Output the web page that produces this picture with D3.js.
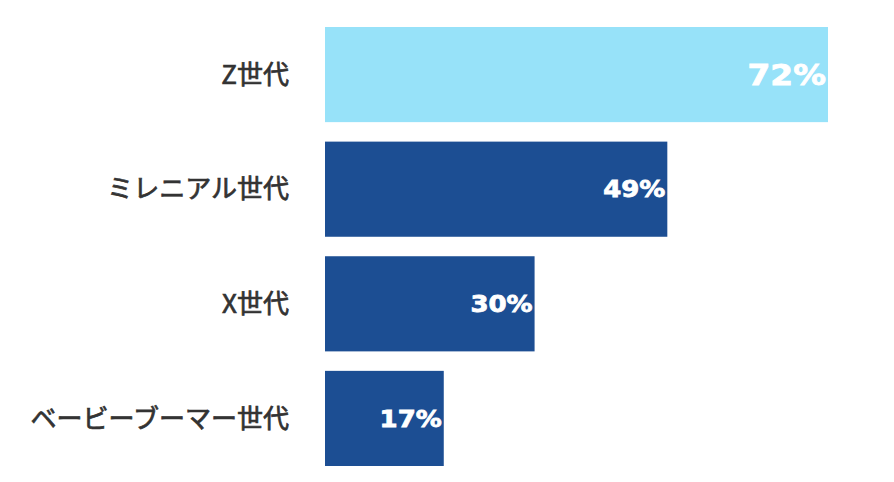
<!DOCTYPE html>
<html>
<head>
<meta charset="utf-8">
<script src="https://cdn.jsdelivr.net/npm/d3@7"></script>
<style>
  body { margin: 0; background: #fff; }
</style>
</head>
<body>
<div class="chart"></div>
<script>
const categories = ["Z世代", "ミレニアル世代", "X世代", "ベービーブーマー世代"];
const values = [72, 49, 30, 17];
const valueLabels = ["72%", "49%", "30%", "17%"];

const width = 894, height = 482;

const svg = d3.select(".chart").append("svg")
    .attr("width", width)
    .attr("height", height)

// bar start at 325, 72% ends at ~828
const xScale = d3.scaleLinear()
    .domain([0, 72])
    .range([325, 828])

const yScale = d3.scaleBand()
    .domain(categories)
    .range([27, 466])
    .paddingInner(0.17)

const data = categories.map((c, i) => ({cat: c, value: values[i], label: valueLabels[i], first: i === 0}))

svg.selectAll(".bar")
    .data(data)
    .join("rect")
    .attr("class", "bar")
    .attr("x", xScale(0))
    .attr("y", d => yScale(d.cat))
    .attr("width", d => xScale(d.value) - xScale(0))
    .attr("height", yScale.bandwidth())
    .attr("fill", d => d.first ? "#97e2f9" : "#1c4e93")

// category labels on the left (regular weight thickened with a thin stroke)
svg.selectAll(".cat-label")
    .data(data)
    .join("text")
    .attr("class", "cat-label")
    .attr("x", 289)
    .attr("y", d => yScale(d.cat) + yScale.bandwidth() / 2)
    .attr("dy", "0.35em")
    .attr("text-anchor", "end")
    .attr("font-family", "'Noto Sans CJK JP', 'Noto Sans', sans-serif")
    .attr("font-size", 26)
    .attr("font-weight", 400)
    .attr("fill", "#333")
    .attr("stroke", "#333")
    .attr("stroke-width", 0.7)
    .text(d => d.cat)

// value labels inside bar ends (wide bold face, stretched a bit)
svg.selectAll(".val-label")
    .data(data)
    .join("text")
    .attr("class", "val-label")
    .attr("transform", d => {
        const fs = d.first ? 29 : 23;
        const x = xScale(d.value) - 2;
        const y = yScale(d.cat) + yScale.bandwidth() / 2 + fs * 0.36;
        return `translate(${x},${y}) scale(1.13,1)`
    })
    .attr("text-anchor", "end")
    .attr("font-family", "'DejaVu Sans', sans-serif")
    .attr("font-size", d => d.first ? 29 : 23)
    .attr("font-weight", 700)
    .attr("fill", "#fff")
    .attr("stroke", "#fff")
    .attr("stroke-width", 0.8)
    .text(d => d.label)
</script>
</body>
</html>
